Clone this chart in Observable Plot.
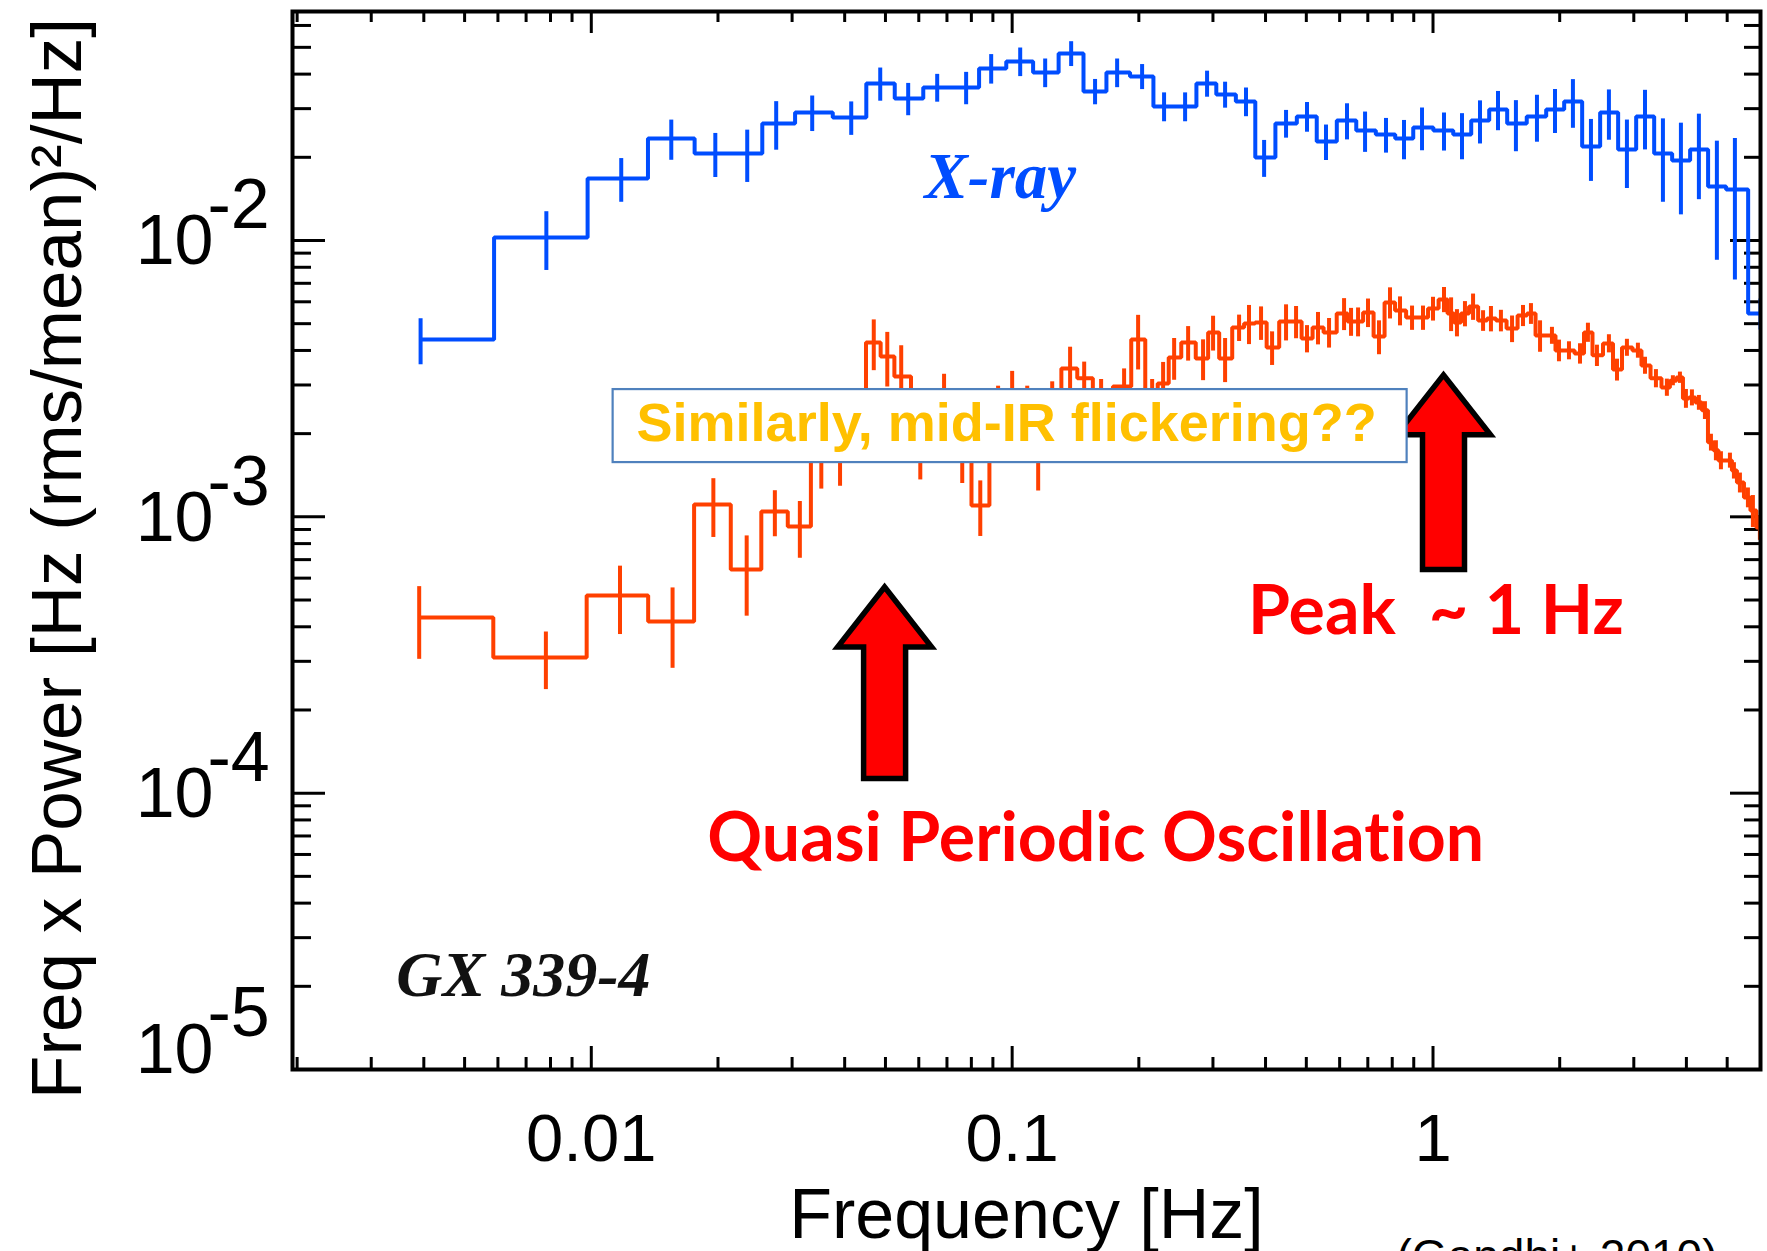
<!DOCTYPE html>
<html>
<head>
<meta charset="utf-8">
<script src="https://cdn.jsdelivr.net/npm/d3@7"></script>
<script src="https://cdn.jsdelivr.net/npm/@observablehq/plot@0.6"></script>
<style>
  html, body { margin: 0; padding: 0; background: #fff; overflow: hidden; }
  #chart svg { display: block; }
  #chart text { font-variant-ligatures: none; font-feature-settings: "liga" 0; }
</style>
</head>
<body>
<div id="chart"></div>
<script>
// GX 339-4 power spectra: bin-centre frequency [Hz], freq x power [(rms/mean)^2], 1-sigma error

// X-ray (blue)
const xrayFreq = [0.00393, 0.00782, 0.01178, 0.01549, 0.01971, 0.02347, 0.0275, 0.03349, 0.04146, 0.04859,
  0.05662, 0.06636, 0.07774, 0.08916, 0.1045, 0.1198, 0.1381, 0.1574, 0.1776, 0.2036,
  0.2296, 0.2576, 0.2905, 0.3206, 0.3595, 0.3969, 0.4475, 0.5019, 0.5568, 0.6247,
  0.6895, 0.7732, 0.8533, 0.9417, 1.062, 1.172, 1.293, 1.427, 1.574, 1.766,
  1.949, 2.150, 2.373, 2.618, 2.889, 3.189, 3.518, 3.882, 4.283, 4.726,
  5.216, 6.0];
const xrayPower = [0.00438, 0.01025, 0.01677, 0.02339, 0.02065, 0.02065, 0.02651, 0.02906, 0.02787, 0.03700,
  0.03265, 0.03579, 0.03579, 0.04194, 0.04445, 0.04055, 0.04751, 0.03462, 0.04055, 0.03924,
  0.03055, 0.03055, 0.03700, 0.03376, 0.03184, 0.01997, 0.02651, 0.02811, 0.02282, 0.02718,
  0.02500, 0.02418, 0.02339, 0.02564, 0.02500, 0.02418, 0.02718, 0.02979, 0.02651, 0.02811,
  0.02979, 0.03184, 0.02189, 0.02906, 0.02135, 0.02811, 0.02065, 0.01948, 0.02135, 0.01568,
  0.01530, 0.00544];
const xrayErr = [0.00083, 0.00246, 0.00302, 0.00388, 0.00375, 0.00443, 0.00529, 0.00427, 0.00386, 0.00508,
  0.00437, 0.00413, 0.0048, 0.00513, 0.00527, 0.00482, 0.0049, 0.00364, 0.00482, 0.00408,
  0.00366, 0.00366, 0.0040, 0.00364, 0.00379, 0.00305, 0.00305, 0.00346, 0.00335, 0.00406,
  0.00416, 0.00347, 0.0038, 0.00452, 0.00393, 0.00459, 0.00483, 0.00483, 0.00556, 0.00543,
  0.0054, 0.00637, 0.00553, 0.006, 0.00593, 0.00684, 0.0069, 0.0071, 0.0073, 0.0072,
  0.0081, 0.0007];

// mid-IR (orange)
const irFreq = [0.0039, 0.0078, 0.0117, 0.0156, 0.0195, 0.0234, 0.0273, 0.0313, 0.0352, 0.0390,
  0.0430, 0.0469, 0.0505, 0.0545, 0.0605, 0.0689, 0.0761, 0.0840, 0.0926, 0.1000,
  0.1086, 0.1153, 0.1245, 0.1373, 0.1483, 0.1627, 0.1845, 0.1992, 0.2151, 0.2284,
  0.2426, 0.2619, 0.2842, 0.3002, 0.3206, 0.3461, 0.3654, 0.3903, 0.4146, 0.4475,
  0.4727, 0.5019, 0.5330, 0.5662, 0.6147, 0.6386, 0.6636, 0.7008, 0.7441, 0.7903,
  0.8348, 0.8916, 0.9467, 1.000, 1.062, 1.104, 1.140, 1.191, 1.245, 1.315,
  1.373, 1.450, 1.541, 1.636, 1.709, 1.796, 1.917, 1.992, 2.104, 2.235,
  2.334, 2.452, 2.618, 2.736, 2.889, 3.068, 3.189, 3.386, 3.595, 3.715,
  3.861, 3.990, 4.123, 4.283, 4.427, 4.575, 4.701, 4.832, 5.076, 5.188,
  5.361, 5.601, 5.756, 5.98];
const irPower = [4.32e-4, 3.10e-4, 5.19e-4, 4.18e-4, 1.108e-3, 6.45e-4, 1.045e-3, 9.22e-4, 1.81e-3, 1.89e-3,
  2.23e-3, 4.27e-3, 3.80e-3, 3.22e-3, 2.02e-3, 2.53e-3, 1.89e-3, 1.099e-3, 2.27e-3, 2.53e-3,
  2.27e-3, 1.81e-3, 2.37e-3, 3.44e-3, 3.17e-3, 2.64e-3, 2.96e-3, 4.38e-3, 2.64e-3, 3.04e-3,
  3.77e-3, 4.27e-3, 3.74e-3, 4.65e-3, 3.74e-3, 4.84e-3, 5.01e-3, 5.05e-3, 4.10e-3, 5.09e-3,
  5.09e-3, 4.42e-3, 4.84e-3, 4.65e-3, 5.44e-3, 5.09e-3, 5.09e-3, 5.49e-3, 4.49e-3, 5.97e-3,
  5.58e-3, 5.26e-3, 5.26e-3, 5.67e-3, 6.12e-3, 5.44e-3, 5.05e-3, 5.44e-3, 5.77e-3, 5.13e-3,
  5.22e-3, 5.13e-3, 4.80e-3, 5.35e-3, 5.44e-3, 4.53e-3, 4.53e-3, 4.00e-3, 4.00e-3, 3.90e-3,
  4.65e-3, 3.84e-3, 4.24e-3, 3.41e-3, 4.10e-3, 4.00e-3, 3.53e-3, 3.17e-3, 2.94e-3, 3.11e-3,
  3.19e-3, 2.68e-3, 2.70e-3, 2.59e-3, 2.43e-3, 1.86e-3, 1.74e-3, 1.60e-3, 1.60e-3, 1.47e-3,
  1.33e-3, 1.175e-3, 1.054e-3, 9.15e-4];
const irErr = [1.27e-4, 0.73e-4, 1.44e-4, 1.35e-4, 2.66e-4, 2.08e-4, 1.98e-4, 2.14e-4, 5.5e-4, 6.0e-4,
  4.9e-4, 8.9e-4, 8.5e-4, 9.4e-4, 6.6e-4, 7.5e-4, 5.7e-4, 2.5e-4, 7.0e-4, 8.3e-4,
  7.0e-4, 5.7e-4, 7.1e-4, 6.7e-4, 4.6e-4, 5.0e-4, 4.7e-4, 9.8e-4, 5.0e-4, 5.8e-4,
  6.5e-4, 6.1e-4, 6.3e-4, 6.7e-4, 6.8e-4, 5.3e-4, 8.1e-4, 7.0e-4, 5.7e-4, 7.6e-4,
  6.8e-4, 5.0e-4, 6.5e-4, 5.7e-4, 7.2e-4, 5.9e-4, 6.1e-4, 6.5e-4, 6.3e-4, 7.7e-4,
  6.7e-4, 5.3e-4, 5.3e-4, 5.6e-4, 6.4e-4, 7.6e-4, 5.7e-4, 5.7e-4, 6.3e-4, 4.4e-4,
  5.5e-4, 4.6e-4, 5.3e-4, 4.7e-4, 4.7e-4, 5.9e-4, 3.2e-4, 3.6e-4, 3.0e-4, 3.3e-4,
  3.7e-4, 3.4e-4, 3.2e-4, 3.1e-4, 2.9e-4, 2.5e-4, 2.5e-4, 2.4e-4, 2.1e-4, 1.3e-4,
  1.5e-4, 2.1e-4, 1.8e-4, 1.6e-4, 1.8e-4, 1.3e-4, 1.45e-4, 1.2e-4, 1.0e-4, 1.0e-4,
  1.1e-4, 0.97e-4, 1.4e-4, 0.93e-4];

// axes
const xDomain = [0.00195, 6];
const yDomain = [1e-5, 0.0674];
const xTickValues = [0.01, 0.1, 1];
const xTickLabels = ["0.01", "0.1", "1"];
const yTickValues = [1e-5, 1e-4, 1e-3, 1e-2];
const yTickExponents = ["-5", "-4", "-3", "-2"];

// annotations (frequency / power positions)
const arrowMarks = [
  {f: 0.0499, tip: 5.55e-4, base: 1.125e-4},
  {f: 1.062, tip: 3.25e-3, base: 6.42e-4}
];
const noteBox = [{f: 0.0989, v: 2.13e-3, text: "Similarly, mid-IR flickering??"}];
const redNotes = [
  {f: 0.158, v: 5.70e-5, text: "Quasi Periodic Oscillation"},
  {f: 1.016, v: 3.78e-4, text: "Peak\u00a0 ~ 1 Hz"}
];
const seriesNotes = [{f: 0.0937, v: 0.01419, text: "X-ray"}];
const sourceNotes = [{f: 0.00344, v: 1.85e-5, text: "GX 339-4"}];

// ---------------------------------------------------------------------------
const blue = "#004dff", orange = "#ff4000";
const W = 1767, H = 1251;
const M = {top: 11, right: 7, bottom: 182, left: 292};
const frameW = W - M.left - M.right, frameH = H - M.top - M.bottom;
const sans = "'Liberation Sans', Arial, Helvetica, sans-serif";
const serif = "'Liberation Serif', 'Times New Roman', serif";

const rows = (freq, power, err) =>
  freq.map((f, i) => ({f, v: power[i], lo: power[i] - err[i], hi: power[i] + err[i]}));

// histogram outline: flat across each bin, stepping halfway between neighbouring centres
function histogramSteps(freq, power) {
  const pts = [{f: freq[0], v: power[0]}];
  for (let i = 0; i < freq.length - 1; ++i) {
    const edge = (freq[i] + freq[i + 1]) / 2;
    pts.push({f: edge, v: power[i]}, {f: edge, v: power[i + 1]});
  }
  pts.push({f: freq[freq.length - 1], v: power[power.length - 1]});
  return pts;
}

const yMinor = [];
for (let e = -5; e <= -2; ++e) for (let m = 2; m <= 9; ++m) {
  const t = m * Math.pow(10, e);
  if (t < yDomain[1]) yMinor.push(t);
}
const xMinor = [];
for (let e = -3; e <= 0; ++e) for (let m = 2; m <= 9; ++m) {
  const t = m * Math.pow(10, e);
  if (t > xDomain[0] && t < xDomain[1]) xMinor.push(t);
}

const yLabelRows = yTickValues.map((v, i) => ({v, exp: yTickExponents[i]}));

// block arrows pointing up at the features
function blockArrows(index, scales) {
  const g = d3.create("svg:g");
  const hw = 47, sw = 21, hl = 60;
  for (const a of arrowMarks) {
    const x = scales.x(a.f), yt = scales.y(a.tip), yb = scales.y(a.base);
    const pts = [[x, yt], [x + hw, yt + hl], [x + sw, yt + hl], [x + sw, yb],
                 [x - sw, yb], [x - sw, yt + hl], [x - hw, yt + hl]];
    g.append("polygon")
      .attr("points", pts.map(p => p.join(",")).join(" "))
      .attr("fill", "#ff0000")
      .attr("stroke", "#000")
      .attr("stroke-width", 5.5)
      .attr("stroke-linejoin", "miter")
      .attr("stroke-miterlimit", 10);
  }
  return g.node();
}

// white framed box behind the mid-IR remark
function noteBoxFrame(index, scales) {
  const g = d3.create("svg:g");
  for (const b of noteBox) {
    const cx = scales.x(b.f), cy = scales.y(b.v);
    g.append("rect")
      .attr("x", cx - 397).attr("y", cy - 36.5)
      .attr("width", 794).attr("height", 73)
      .attr("fill", "#fff")
      .attr("stroke", "#4f81bd")
      .attr("stroke-width", 2.2);
  }
  return g.node();
}

const tickStyle = {stroke: "#000", strokeWidth: 3};
const irRows = rows(irFreq, irPower, irErr);
const xrayRows = rows(xrayFreq, xrayPower, xrayErr);
const lineStyle = {strokeWidth: 4, strokeLinejoin: "miter", strokeLinecap: "butt", clip: true};

const chart = Plot.plot({
  width: W,
  height: H,
  marginTop: M.top,
  marginRight: M.right,
  marginBottom: M.bottom,
  marginLeft: M.left,
  x: {type: "log", domain: xDomain, axis: null},
  y: {type: "log", domain: yDomain, axis: null},
  style: {background: "#fff", fontFamily: sans, color: "#000"},
  marks: [
    // inward ticks on all four sides
    Plot.tickY(yTickValues, {y: d => d, insetRight: frameW - 33, ...tickStyle}),
    Plot.tickY(yMinor, {y: d => d, insetRight: frameW - 19, ...tickStyle}),
    Plot.tickY(yTickValues, {y: d => d, insetLeft: frameW - 30, ...tickStyle}),
    Plot.tickY(yMinor, {y: d => d, insetLeft: frameW - 16, ...tickStyle}),
    Plot.tickX(xTickValues, {x: d => d, insetTop: frameH - 23, ...tickStyle}),
    Plot.tickX(xMinor, {x: d => d, insetTop: frameH - 12, ...tickStyle}),
    Plot.tickX(xTickValues, {x: d => d, insetBottom: frameH - 22, ...tickStyle}),
    Plot.tickX(xMinor, {x: d => d, insetBottom: frameH - 11, ...tickStyle}),

    // mid-IR spectrum
    Plot.ruleX(irRows, {x: "f", y1: "lo", y2: "hi", stroke: orange, ...lineStyle}),
    Plot.line(histogramSteps(irFreq, irPower), {x: "f", y: "v", stroke: orange, ...lineStyle}),

    // X-ray spectrum
    Plot.ruleX(xrayRows, {x: "f", y1: "lo", y2: "hi", stroke: blue, ...lineStyle}),
    Plot.line(histogramSteps(xrayFreq, xrayPower), {x: "f", y: "v", stroke: blue, ...lineStyle}),

    // annotations
    blockArrows,
    noteBoxFrame,
    Plot.text(noteBox, {x: "f", y: "v", text: "text", dx: -3.5, dy: 15, lineAnchor: "bottom",
      fill: "#ffc000", fontFamily: sans, fontWeight: "bold", fontSize: 54}),
    Plot.text(redNotes, {x: "f", y: "v", text: "text", lineAnchor: "bottom",
      fill: "#ff0000", fontFamily: "Lato, 'Open Sans', sans-serif", fontWeight: 700, fontSize: 68}),
    Plot.text(seriesNotes, {x: "f", y: "v", text: "text", lineAnchor: "bottom",
      fill: blue, fontFamily: serif, fontStyle: "italic", fontWeight: "bold", fontSize: 65}),
    Plot.text(sourceNotes, {x: "f", y: "v", text: "text", lineAnchor: "bottom", textAnchor: "start",
      fill: "#111", fontFamily: serif, fontStyle: "italic", fontWeight: "bold", fontSize: 64}),

    // tick labels
    Plot.text(xTickValues, {x: d => d, text: (d, i) => xTickLabels[i], frameAnchor: "bottom",
      lineAnchor: "bottom", dy: 91, fontSize: 67, fill: "#000"}),
    Plot.text(yLabelRows.filter(d => d.v > yDomain[0]), {y: "v", text: () => "10", frameAnchor: "left",
      textAnchor: "end", lineAnchor: "bottom", dx: -79, dy: 24, fontSize: 70, fill: "#000"}),
    Plot.text(yLabelRows.filter(d => d.v > yDomain[0]), {y: "v", text: "exp", frameAnchor: "left",
      textAnchor: "start", lineAnchor: "bottom", dx: -85, dy: -12, fontSize: 70, fill: "#000"}),
    Plot.text(yLabelRows.filter(d => d.v <= yDomain[0]), {y: "v", text: () => "10", frameAnchor: "left",
      textAnchor: "end", lineAnchor: "bottom", dx: -79, dy: 3, fontSize: 70, fill: "#000"}),
    Plot.text(yLabelRows.filter(d => d.v <= yDomain[0]), {y: "v", text: "exp", frameAnchor: "left",
      textAnchor: "start", lineAnchor: "bottom", dx: -85, dy: -34, fontSize: 70, fill: "#000"}),

    // axis titles and source
    Plot.text(["Frequency [Hz]"], {frameAnchor: "bottom", lineAnchor: "bottom", dy: 168,
      fontSize: 70, fill: "#000"}),
    Plot.text(["Freq x Power [Hz (rms/mean)\u00b2/Hz]"], {frameAnchor: "left", rotate: -90,
      textAnchor: "middle", lineAnchor: "bottom", dx: -212, dy: 18, fontSize: 71, fill: "#000"}),
    Plot.text(["(Gandhi+ 2010)"], {frameAnchor: "bottom-right", textAnchor: "end", lineAnchor: "bottom",
      dx: -43, dy: 202, fontSize: 46, fill: "#000"}),

    Plot.frame({stroke: "#000", strokeWidth: 4})
  ]
});

document.getElementById("chart").append(chart);
</script>
</body>
</html>
